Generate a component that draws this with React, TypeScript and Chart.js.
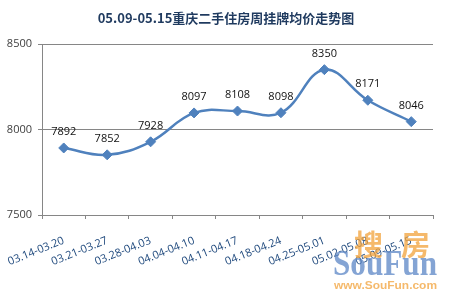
import React, { useEffect, useRef } from "react";
import { Chart, registerables } from "chart.js";

Chart.register(...registerables);

const TITLE = "05.09-05.15重庆二手住房周挂牌均价走势图";
const weeks = [
  "03.14-03.20",
  "03.21-03.27",
  "03.28-04.03",
  "04.04-04.10",
  "04.11-04.17",
  "04.18-04.24",
  "04.25-05.01",
  "05.02-05.08",
  "05.09-05.15",
];
const avgPrice = [7892, 7852, 7928, 8097, 8108, 8098, 8350, 8171, 8046];
const yTicks = [7500, 8000, 8500];

const FONT = "'Open Sans', 'Noto Sans', sans-serif";

// draw text stretched to fill a given width
function fitText(ctx: CanvasRenderingContext2D, text: string, x: number, y: number, w: number) {
  const m = ctx.measureText(text).width;
  ctx.save();
  ctx.translate(x, y);
  ctx.scale(w / m, 1);
  ctx.fillText(text, 0, 0);
  ctx.restore();
}

// Title, point value labels and the site watermark
const decorations = {
  id: "decorations",
  afterDatasetsDraw(chart: any) {
    const ctx = chart.ctx as CanvasRenderingContext2D;
    const meta = chart.getDatasetMeta(0);
    ctx.save();
    ctx.fillStyle = "#111";
    ctx.font = `11px ${FONT}`;
    ctx.textAlign = "center";
    ctx.textBaseline = "middle";
    meta.data.forEach((pt: any, i: number) => {
      ctx.fillText(String(avgPrice[i]), pt.x, pt.y - 16);
    });
    ctx.restore();
  },
  afterDraw(chart: any) {
    const ctx = chart.ctx as CanvasRenderingContext2D;
    ctx.save();
    ctx.fillStyle = "#1F3A5F";
    ctx.font = `bold 13px 'Noto Sans CJK SC', ${FONT}`;
    ctx.textAlign = "center";
    ctx.textBaseline = "middle";
    ctx.fillText(TITLE, 226, 18);

    // watermark
    ctx.globalAlpha = 0.75;
    ctx.textAlign = "left";
    ctx.textBaseline = "alphabetic";
    ctx.fillStyle = "#F2A23A";
    ctx.font = "bold 29px 'Noto Sans CJK SC', sans-serif";
    ctx.fillText("搜", 354, 256);
    ctx.fillText("房", 401, 256);
    ctx.fillStyle = "#5B86C5";
    ctx.font = "bold 35px 'Liberation Serif', 'DejaVu Serif', serif";
    fitText(ctx, "SouFun", 333, 275, 104);
    ctx.fillStyle = "#F2A23A";
    ctx.font = "bold 10px 'Liberation Sans', sans-serif";
    fitText(ctx, "www.SouFun.com", 334, 289, 103);
    ctx.restore();
  },
};

export default function App() {
  const ref = useRef<HTMLCanvasElement>(null);

  useEffect(() => {
    document.body.style.margin = "0";
    const chart = new Chart(ref.current!, {
      type: "line",
      data: {
        labels: weeks,
        datasets: [
          {
            data: avgPrice,
            borderColor: "#4F81BD",
            backgroundColor: "#4F81BD",
            borderWidth: 2.5,
            tension: 0.4,
            pointStyle: "rectRot",
            pointRadius: 5,
            pointBorderWidth: 1,
            pointBorderColor: "#4F81BD",
            pointBackgroundColor: "#4F81BD",
          },
        ],
      },
      options: {
        animation: false,
        responsive: false,
        layout: { padding: { top: 44, right: 19, left: 0, bottom: 0 } },
        plugins: {
          legend: { display: false },
          title: { display: false },
          tooltip: { enabled: false },
        },
        scales: {
          x: {
            offset: true,
            afterFit: (s: any) => {
              s.height = 85;
              s.paddingLeft = 0;
              s.paddingRight = 0;
            },
            grid: {
              offset: true,
              drawOnChartArea: false,
              drawTicks: true,
              tickLength: 4,
              color: "#868686",
            },
            border: { color: "#868686", width: 1 },
            ticks: {
              color: "#1F497D",
              font: { family: FONT, size: 11 },
              maxRotation: 22,
              minRotation: 22,
              autoSkip: false,
              padding: 15,
            },
          },
          y: {
            min: 7500,
            max: 8500,
            afterFit: (s: any) => {
              s.width = 42;
            },
            afterBuildTicks: (s: any) => {
              s.ticks = yTicks.map((v) => ({ value: v }));
            },
            grid: {
              color: "#868686",
              drawTicks: true,
              tickLength: 4,
            },
            border: { color: "#868686", width: 1 },
            ticks: {
              color: "#404040",
              font: { family: FONT, size: 11 },
              padding: 6,
              callback: (v: any) => String(v),
            },
          },
        },
      },
      plugins: [decorations],
    });
    return () => chart.destroy();
  }, []);

  return (
    <div style={{ position: "absolute", left: 0, top: 0, width: 452, height: 300, background: "#fff" }}>
      <canvas ref={ref} width={452} height={300} />
    </div>
  );
}
